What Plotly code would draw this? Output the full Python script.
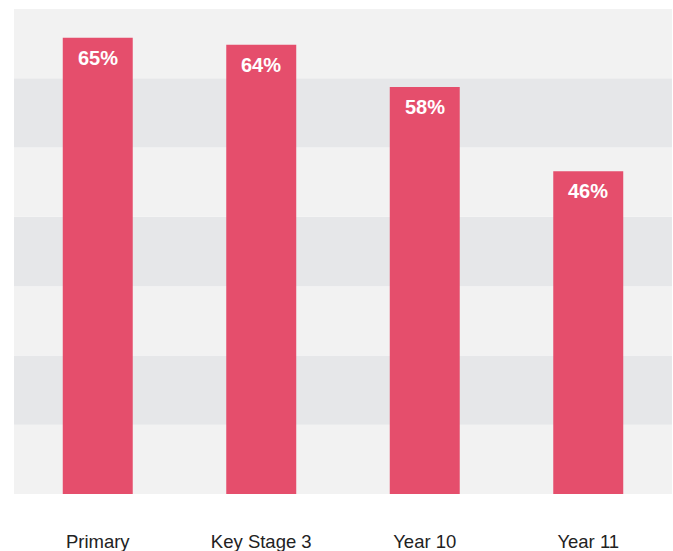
import plotly.graph_objects as go

categories = ["Primary", "Key Stage 3", "Year 10", "Year 11"]
values = [65, 64, 58, 46]
labels = ["65%", "64%", "58%", "46%"]

BAR = "#E54E6C"
BAND_LIGHT = "#F2F2F2"
BAND_DARK = "#E6E7E9"

fig = go.Figure()
fig.add_trace(go.Bar(
    x=categories, y=values,
    marker=dict(color=BAR, line=dict(width=0)),
    hoverinfo="skip",
))

# alternating background bands
n_bands = 7
for i in range(n_bands):
    fig.add_shape(
        type="rect", xref="paper", yref="paper",
        x0=-0.003, x1=1.003, y0=i / n_bands, y1=(i + 1) / n_bands,
        fillcolor=BAND_LIGHT if i % 2 == 0 else BAND_DARK,
        line=dict(width=0), layer="below",
    )

for c, v, t in zip(categories, values, labels):
    fig.add_annotation(
        x=c, y=v, text="<b>%s</b>" % t, showarrow=False,
        yanchor="top", yshift=-7,
        font=dict(family="Liberation Sans, Arial, sans-serif", size=20, color="white"),
    )

fig.update_layout(
    width=673, height=551,
    margin=dict(l=16, r=3, t=9, b=57),
    paper_bgcolor="white", plot_bgcolor="rgba(0,0,0,0)",
    bargap=0.572,
    showlegend=False,
    xaxis=dict(
        showgrid=False, zeroline=False, showline=False, ticks="",
        tickfont=dict(family="Liberation Sans, Arial, sans-serif", size=18.5, color="#222222"),
        ticklabelstandoff=34, automargin=False,
    ),
    yaxis=dict(
        range=[0, 69.1], showgrid=False, zeroline=False, showline=False,
        showticklabels=False, ticks="", automargin=False,
    ),
)

fig.write_html(
    "out.html",
    config={"displayModeBar": False, "staticPlot": True},
    post_script="document.body.style.margin='0';document.body.style.overflow='hidden';",
)
